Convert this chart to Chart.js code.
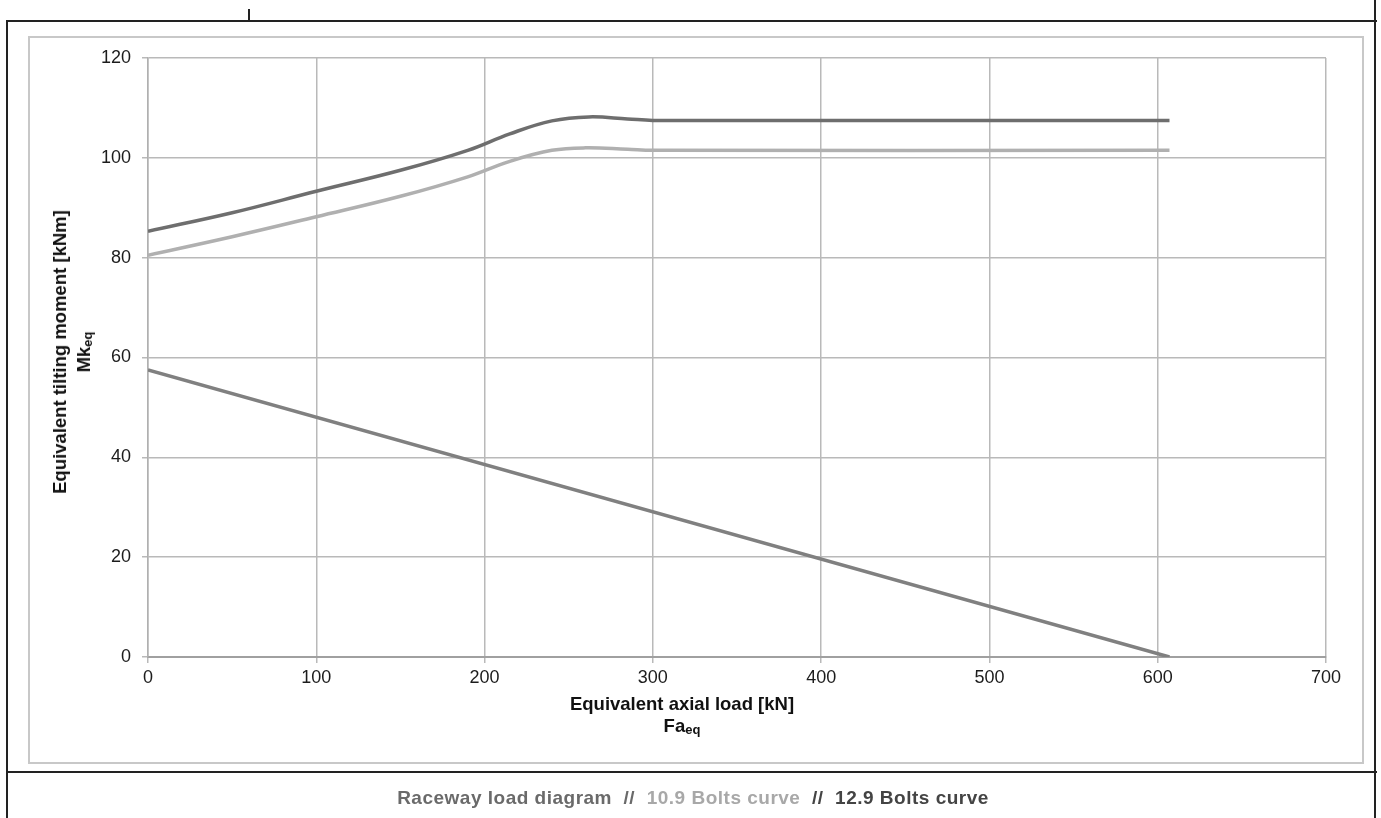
<!DOCTYPE html>
<html>
<head>
<meta charset="utf-8">
<script src="https://cdn.jsdelivr.net/npm/chart.js@4"></script>
<style>
  body { margin:0; background:#fff; width:1381px; height:818px; overflow:hidden; position:relative;
         font-family:"Liberation Sans", Arial, sans-serif; }
  .ln { position:absolute; background:#222; }
  #frame { position:absolute; left:28px; top:36px; width:1332px; height:724px; border:2px solid #c8c8c8; }
  #chart { position:absolute; left:0; top:0; }
  .t { position:absolute; font-weight:bold; font-size:18.5px; color:#111; white-space:nowrap; }
  .t sub { font-size:13px; vertical-align:-2px; }
  #ytitle { left:74px; top:352px; transform:translate(-50%,-50%) rotate(-90deg); text-align:center; line-height:24px; }
  #xtitle { left:682px; top:693px; transform:translateX(-50%); text-align:center; line-height:22px; }
  #caption { left:693px; top:787px; transform:translateX(-50%); font-size:19px; letter-spacing:0.5px; }
</style>
</head>
<body>
<div class="ln" style="left:7px;top:20px;width:1370px;height:2px"></div>
<div class="ln" style="left:248px;top:9px;width:2px;height:12px"></div>
<div class="ln" style="left:6px;top:20px;width:2px;height:798px"></div>
<div class="ln" style="left:1374px;top:0;width:2px;height:818px"></div>
<div class="ln" style="left:7px;top:771px;width:1370px;height:2px"></div>
<div id="frame"></div>
<canvas id="chart" width="1381" height="818"></canvas>
<div class="t" id="ytitle">Equivalent tilting moment [kNm]<br>Mk<sub>eq</sub></div>
<div class="t" id="xtitle">Equivalent axial load [kN]<br>Fa<sub>eq</sub></div>
<div class="t" id="caption"><span style="color:#6a6a6a">Raceway load diagram &nbsp;//&nbsp; </span><span style="color:#a8a8a8">10.9 Bolts curve</span><span style="color:#444"> &nbsp;//&nbsp; 12.9 Bolts curve</span></div>
<script>
// values (x = axial load kN, y = tilting moment kNm)
var racewayX = [0, 607];
var racewayY = [57.5, 0];
var bolts109X = [0, 50, 100, 150, 190, 215, 240, 260, 285, 300, 607];
var bolts109Y = [80.5, 84.2, 88.2, 92.3, 96.2, 99.3, 101.5, 102, 101.7, 101.5, 101.5];
var bolts129X = [0, 50, 100, 150, 190, 215, 240, 262, 285, 300, 607];
var bolts129Y = [85.3, 89, 93.3, 97.5, 101.5, 104.8, 107.4, 108.2, 107.8, 107.5, 107.5];

function toPoints(xs, ys){
  var pts = [];
  for (var i = 0; i < xs.length; i++){
    pts.push({x: xs[i], y: ys[i]});
  }
  return pts;
}

var tickFont = {family: '"Liberation Sans", Arial, sans-serif', size: 18};

var ctx = document.getElementById('chart').getContext('2d');
var chart = new Chart(ctx, {
  type: 'line',
  data: {
    datasets: [
      {label: 'Raceway load diagram', data: toPoints(racewayX, racewayY), borderColor: '#808080', borderWidth: 3.5},
      {label: '10.9 Bolts curve', data: toPoints(bolts109X, bolts109Y), borderColor: '#b0b0b0', borderWidth: 3.5, tension: 0.4},
      {label: '12.9 Bolts curve', data: toPoints(bolts129X, bolts129Y), borderColor: '#6e6e6e', borderWidth: 3.5, tension: 0.4}
    ]
  },
  options: {
    responsive: false,
    animation: false,
    layout: {padding: {top: 58, right: 55, left: 0, bottom: 0}},
    elements: {point: {radius: 0}, line: {borderCapStyle: 'butt'}},
    plugins: {legend: {display: false}, tooltip: {enabled: false}},
    scales: {
      x: {
        type: 'linear', min: 0, max: 700,
        ticks: {stepSize: 100, font: tickFont, color: '#1c1c1c', padding: 4, maxRotation: 0},
        grid: {color: '#b9b9b9', lineWidth: 1.5, tickLength: 6},
        border: {color: '#a0a0a0', width: 2},
        afterFit: function(scale){ scale.height = 818 - 657; }
      },
      y: {
        min: 0, max: 120,
        ticks: {stepSize: 20, font: tickFont, color: '#1c1c1c', padding: 11},
        grid: {color: '#b9b9b9', lineWidth: 1.5, tickLength: 6},
        border: {color: '#b0b0b0', width: 1.5},
        afterFit: function(scale){ scale.width = 148; }
      }
    }
  }
});
</script>
</body>
</html>
